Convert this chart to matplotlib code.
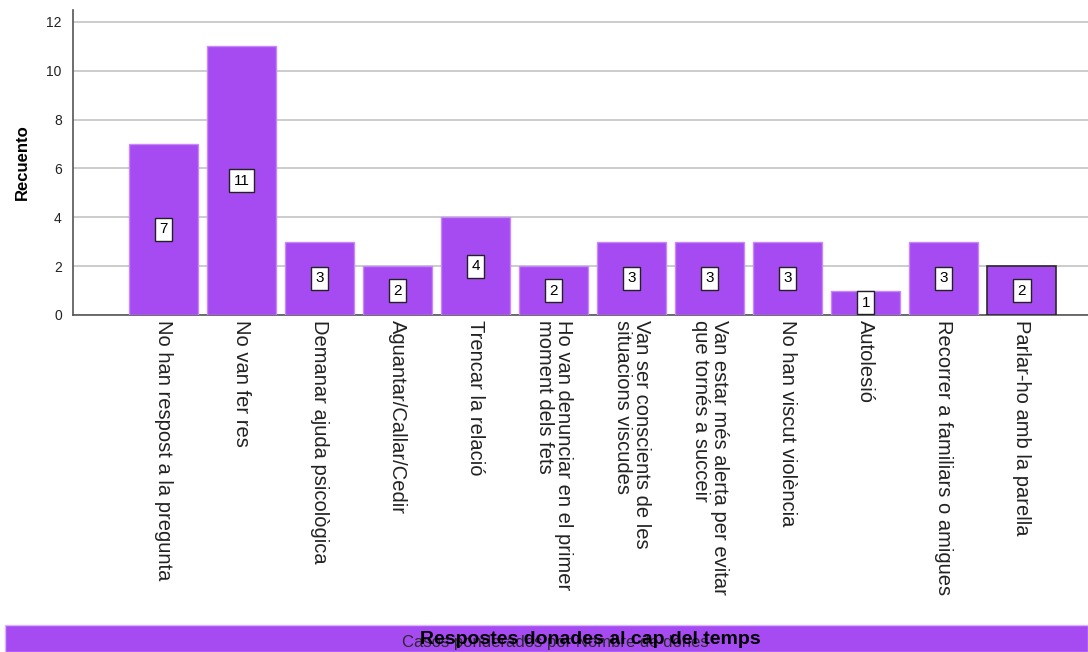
import matplotlib
matplotlib.use('Agg')
import matplotlib.pyplot as plt
from matplotlib.patches import Rectangle

plt.rcParams['font.family'] = ['Liberation Sans', 'DejaVu Sans']

categories = [
    'No han respost a la pregunta',
    'No van fer res',
    'Demanar ajuda psicològica',
    'Aguantar/Callar/Cedir',
    'Trencar la relació',
    'Ho van denunciar en el primer\nmoment dels fets',
    'Van ser conscients de les\nsituacions viscudes',
    'Van estar més alerta per evitar\nque tornés a succeir',
    'No han viscut violència',
    'Autolesió',
    'Recorrer a familiars o amigues',
    'Parlar-ho amb la parella',
]
counts = [7, 11, 3, 2, 4, 2, 3, 3, 3, 1, 3, 2]
yticks = [0, 2, 4, 6, 8, 10, 12]

title = 'Respostes donades al cap del temps'
footnote = 'Casos ponderados por Nombre de dones'

bar_color = '#a64af2'

fig = plt.figure(figsize=(10.88, 6.52), dpi=100)
ax = fig.add_axes([0.067, 0.517, 0.933, 0.468])

x = list(range(len(categories)))
bars = ax.bar(x, counts, width=0.885, color=bar_color, edgecolor='#c58af7',
              linewidth=1, zorder=3)
bars[-1].set_edgecolor('#2a2a2a')
bars[-1].set_linewidth(1.2)

for xi, v in zip(x, counts):
    ax.text(xi, v / 2, str(v), ha='center', va='center', fontsize=11,
            zorder=5,
            bbox=dict(boxstyle='square,pad=0.3', fc='white', ec='#222222', lw=1))

ax.set_xlim(-1.16, 11.85)
ax.set_ylim(0, 12.5)
ax.set_yticks(yticks)
ax.yaxis.grid(True, color='#c8c8c8', linewidth=1.3, zorder=0)
ax.set_axisbelow(True)
ax.tick_params(axis='both', length=0, labelsize=10, colors='#222222')
ax.tick_params(axis='y', pad=8)
ax.set_xticks(x)
ax.set_xticklabels(categories, rotation=270, ha='center', va='top',
                   multialignment='left', fontsize=14.5, color='#222222',
                   linespacing=1.0)
ax.tick_params(axis='x', pad=4)
ax.set_ylabel('Recuento', fontsize=12, fontweight='bold', labelpad=12)

for s in ['top', 'right']:
    ax.spines[s].set_visible(False)
for s in ['left', 'bottom']:
    ax.spines[s].set_color('#555555')
    ax.spines[s].set_linewidth(1.2)

# bottom banner
fig.patches.append(Rectangle((0.005, 0), 0.995, 27 / 652, transform=fig.transFigure,
                             facecolor=bar_color, edgecolor='#d9b4fa', linewidth=1))
fig.text(0.51, 9 / 652, footnote, ha='center', va='center', fontsize=12,
         color='#2a2a2a')
fig.text(0.543, 13 / 652, title, ha='center', va='center', fontsize=14,
         fontweight='bold', color='black')

fig.savefig('out.png', dpi=100)
